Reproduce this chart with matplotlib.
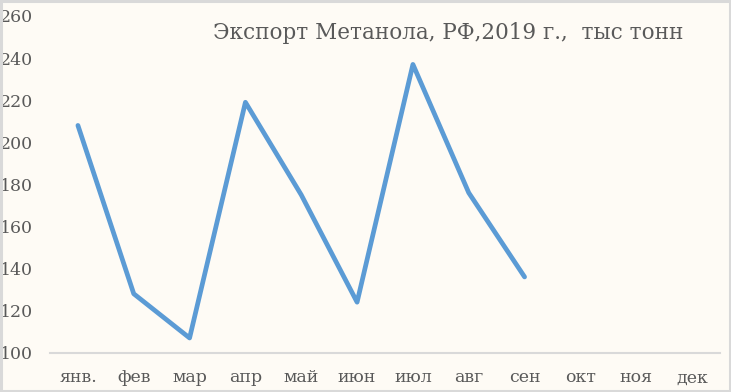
import matplotlib
matplotlib.use('Agg')
import matplotlib.pyplot as plt

# data
months = ['янв.', 'фев', 'мар', 'апр', 'май', 'июн', 'июл', 'авг', 'сен', 'окт', 'ноя', 'дек']
export_kt = [208, 128, 107, 219, 175, 124, 237, 176, 136]
title = 'Экспорт Метанола, РФ,2019 г.,  тыс тонн'

plt.rcParams['font.family'] = ['DejaVu Serif']

bg = '#FEFBF5'
txt = '#595959'

fig = plt.figure(figsize=(7.31, 3.92), dpi=100, facecolor=bg)

ax = fig.add_axes([50/731, 39.3/392, 670/731, 336.7/392])
ax.set_facecolor(bg)

x = list(range(len(months)))
ax.plot(x[:len(export_kt)], export_kt, color='#5B9BD5', linewidth=3.4,
        solid_capstyle='round', solid_joinstyle='round')

ax.set_xlim(-0.5, len(months) - 0.5)
ax.set_ylim(100, 260)
ax.set_yticks(range(100, 261, 20))
ax.set_xticks(x)
ax.set_xticklabels(months)

for s in ['top', 'right', 'left']:
    ax.spines[s].set_visible(False)
ax.spines['bottom'].set_color('#D9D9D9')
ax.spines['bottom'].set_linewidth(1.5)
ax.tick_params(axis='both', length=0, labelsize=12.5, labelcolor=txt)
ax.tick_params(axis='x', pad=12)
ax.tick_params(axis='y', pad=12)

fig.text(448/731, 1 - 33/392, title, ha='center', va='center',
         fontsize=15.5, color=txt)

# thin grey frame round the whole picture
fig.add_artist(plt.Rectangle((0.001, 0.002), 0.997, 0.995, transform=fig.transFigure,
                             fill=False, edgecolor='#D9D9D9', linewidth=2.2))

fig.savefig('out.png', dpi=100, facecolor=bg)
